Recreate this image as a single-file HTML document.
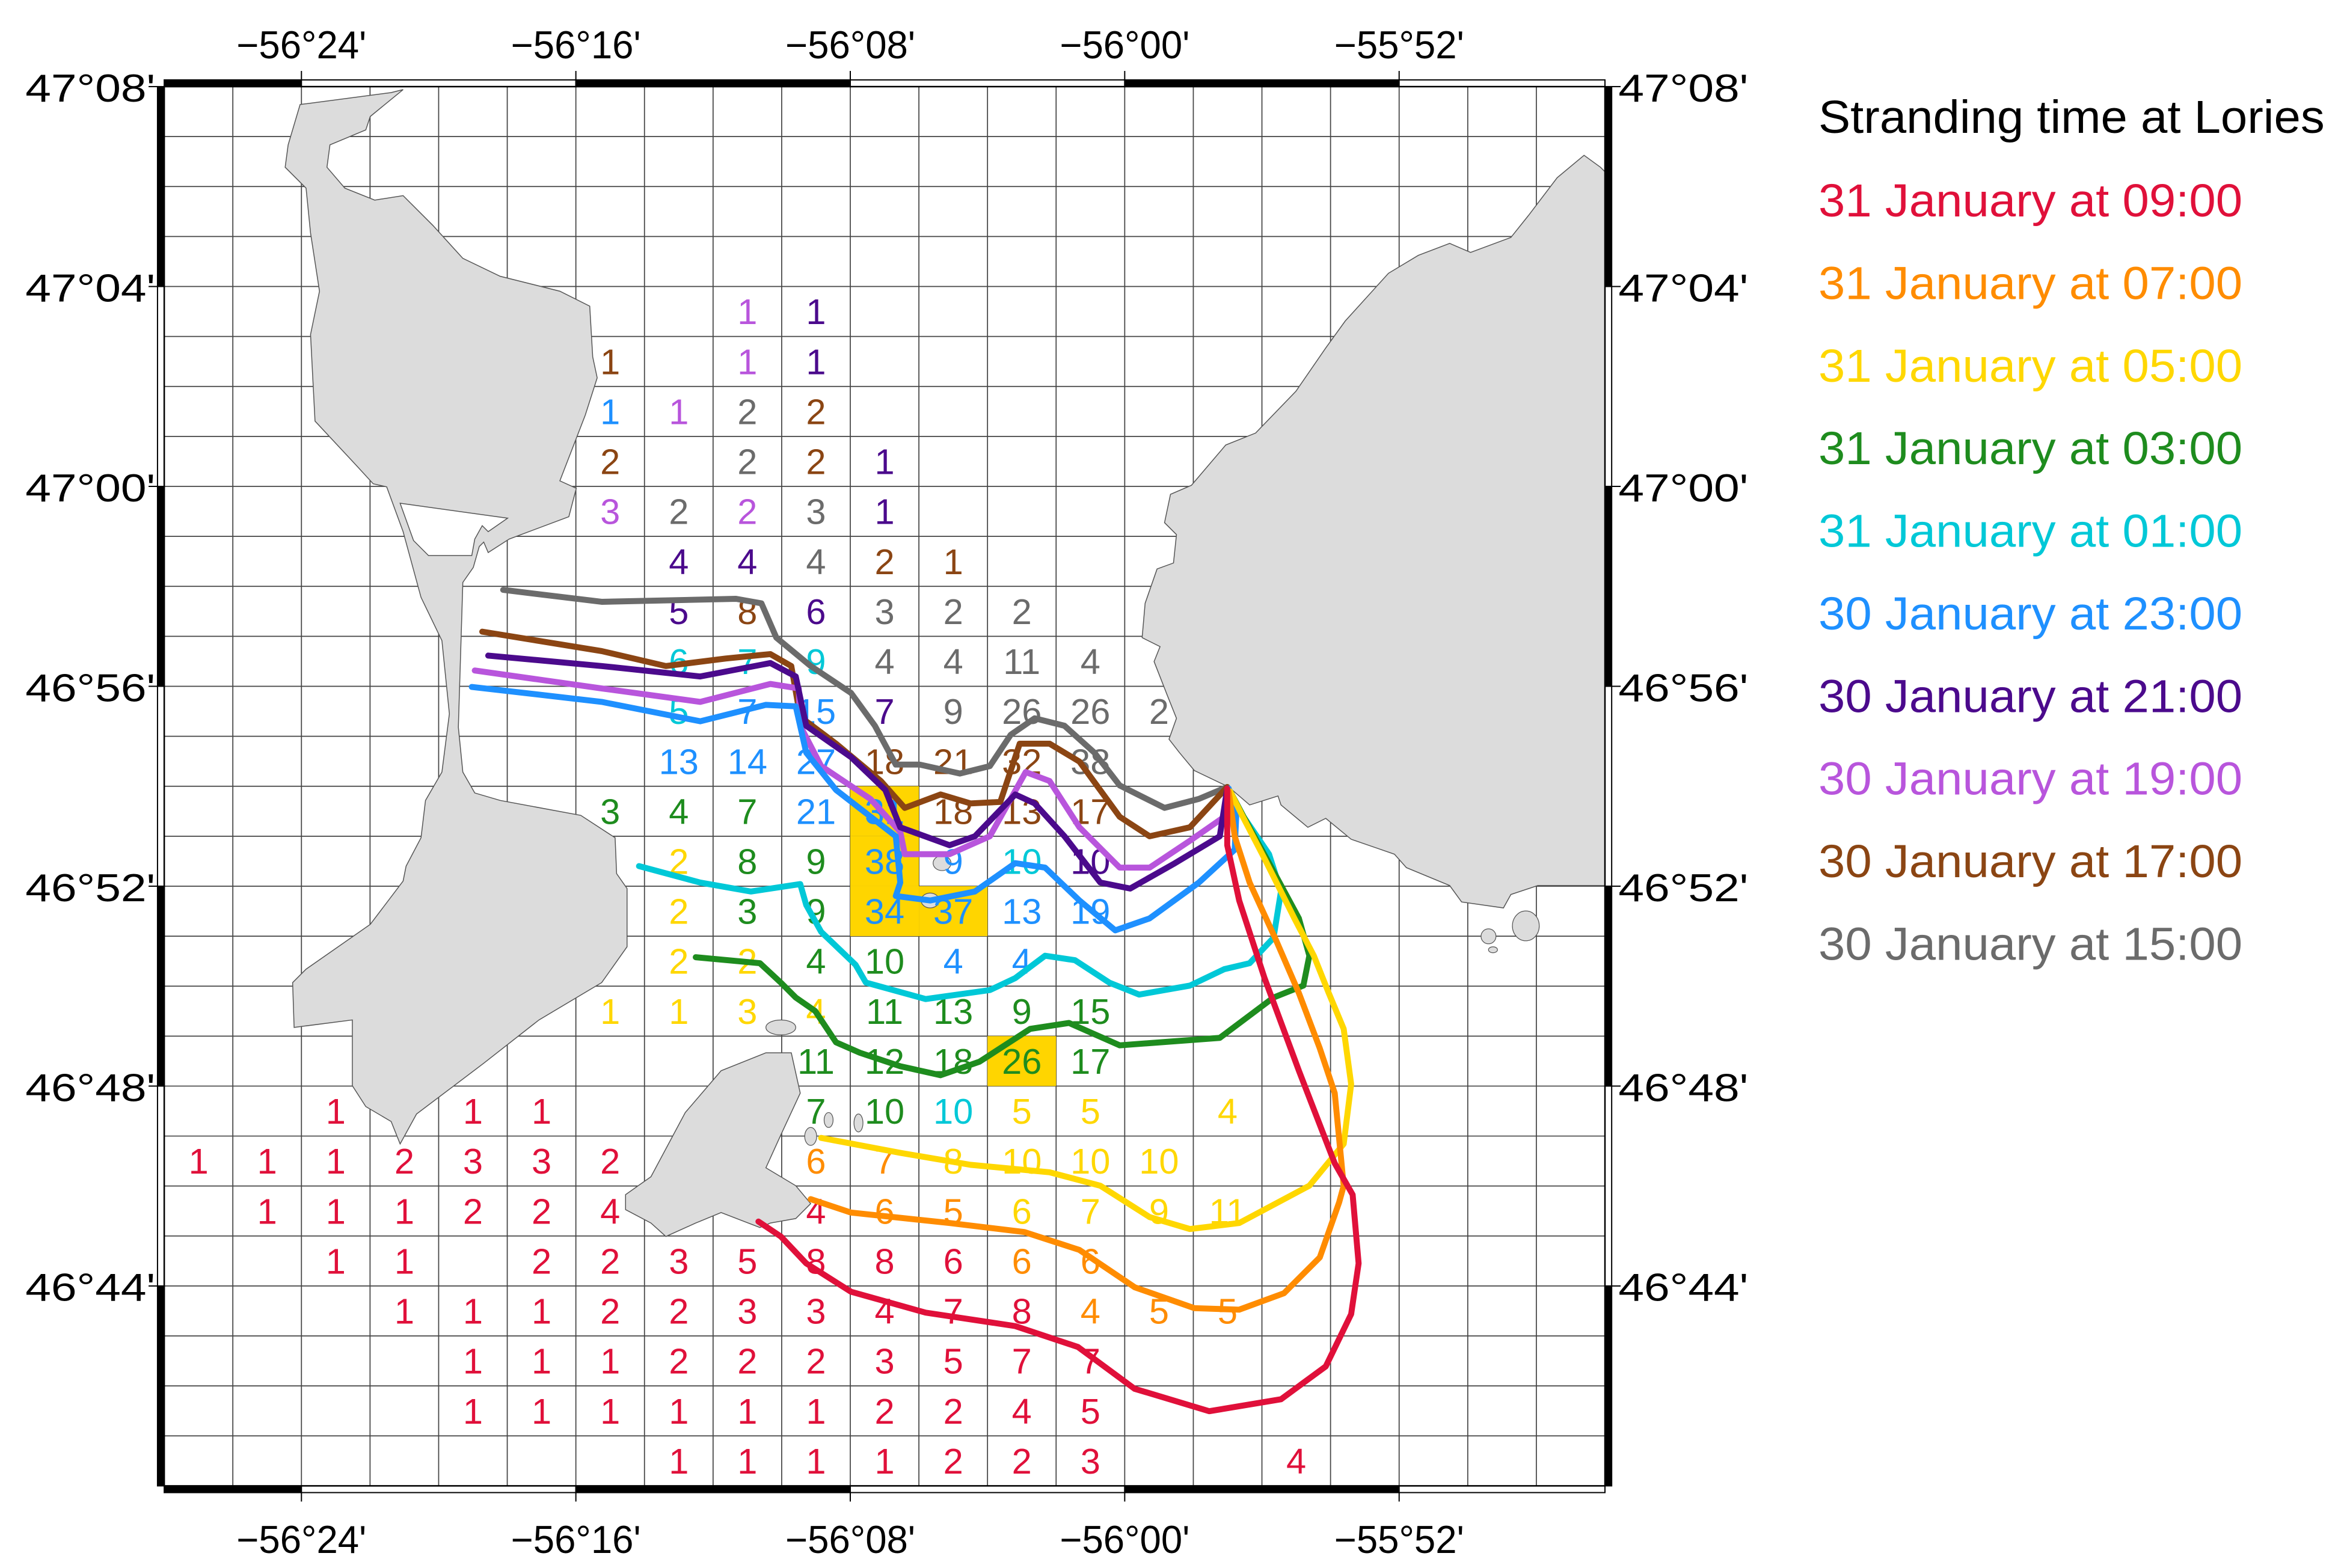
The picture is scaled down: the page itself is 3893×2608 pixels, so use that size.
<!DOCTYPE html>
<html><head><meta charset="utf-8"><title>Stranding time at Lories</title>
<style>
html,body{margin:0;padding:0;background:#fff;}
svg{display:block;font-family:"Liberation Sans",sans-serif;}
</style></head>
<body>
<svg id="chart" xmlns="http://www.w3.org/2000/svg" width="3893" height="2608" viewBox="0 0 1568 1050" preserveAspectRatio="none">
<rect x="0" y="0" width="1568" height="1050" fill="#fff"/>
<g id="grid"></g>
<g id="land"></g>
<g id="cells"></g>
<g id="traj"></g>
<g id="frame"></g>
<g id="axes"></g>
<g id="legend"></g>
</svg>
<script>
// ---- data ----
const seriesLabels = ["31 January at 09:00","31 January at 07:00","31 January at 05:00","31 January at 03:00","31 January at 01:00","30 January at 23:00","30 January at 21:00","30 January at 19:00","30 January at 17:00","30 January at 15:00"];
const seriesColors = ["#e0103a","#ff8c00","#ffd700","#1e8c1e","#00c8d7","#1e90ff","#4b0a8c","#b855dc","#8b4513","#6b6b6b"];
const lonTicks = ["\u221256\u00b024'","\u221256\u00b016'","\u221256\u00b008'","\u221256\u00b000'","\u221255\u00b052'"];
const lonTickMinutes = [-3384,-3376,-3368,-3360,-3352];
const latTicks = ["47\u00b008'","47\u00b004'","47\u00b000'","46\u00b056'","46\u00b052'","46\u00b048'","46\u00b044'"];
const latTickMinutes = [2828,2824,2820,2816,2812,2808,2804];
// cells: [col,row,value,series]
const cells = [
[8,4,1,7],[9,4,1,6],
[6,5,1,8],[8,5,1,7],[9,5,1,6],
[6,6,1,5],[7,6,1,7],[8,6,2,9],[9,6,2,8],
[6,7,2,8],[8,7,2,9],[9,7,2,8],[10,7,1,6],
[6,8,3,7],[7,8,2,9],[8,8,2,7],[9,8,3,9],[10,8,1,6],
[7,9,4,6],[8,9,4,6],[9,9,4,9],[10,9,2,8],[11,9,1,8],
[7,10,5,6],[8,10,8,8],[9,10,6,6],[10,10,3,9],[11,10,2,9],[12,10,2,9],
[7,11,6,4],[8,11,7,4],[9,11,9,4],[10,11,4,9],[11,11,4,9],[12,11,11,9],[13,11,4,9],
[7,12,5,4],[8,12,7,5],[9,12,15,5],[10,12,7,6],[11,12,9,9],[12,12,26,9],[13,12,26,9],[14,12,2,9],
[7,13,13,5],[8,13,14,5],[9,13,27,5],[10,13,18,8],[11,13,21,8],[12,13,32,8],[13,13,38,9],
[6,14,3,3],[7,14,4,3],[8,14,7,3],[9,14,21,5],[10,14,31,5],[11,14,18,8],[12,14,13,8],[13,14,17,8],
[7,15,2,2],[8,15,8,3],[9,15,9,3],[10,15,38,5],[11,15,9,5],[12,15,10,4],[13,15,10,6],
[7,16,2,2],[8,16,3,3],[9,16,9,3],[10,16,34,5],[11,16,37,5],[12,16,13,5],[13,16,19,5],
[7,17,2,2],[8,17,2,2],[9,17,4,3],[10,17,10,3],[11,17,4,5],[12,17,4,5],
[6,18,1,2],[7,18,1,2],[8,18,3,2],[9,18,4,2],[10,18,11,3],[11,18,13,3],[12,18,9,3],[13,18,15,3],
[9,19,11,3],[10,19,12,3],[11,19,18,3],[12,19,26,3],[13,19,17,3],
[2,20,1,0],[4,20,1,0],[5,20,1,0],[9,20,7,3],[10,20,10,3],[11,20,10,4],[12,20,5,2],[13,20,5,2],[15,20,4,2],
[0,21,1,0],[1,21,1,0],[2,21,1,0],[3,21,2,0],[4,21,3,0],[5,21,3,0],[6,21,2,0],[9,21,6,1],[10,21,7,1],[11,21,8,2],[12,21,10,2],[13,21,10,2],[14,21,10,2],
[1,22,1,0],[2,22,1,0],[3,22,1,0],[4,22,2,0],[5,22,2,0],[6,22,4,0],[9,22,4,0],[10,22,6,1],[11,22,5,1],[12,22,6,2],[13,22,7,2],[14,22,9,2],[15,22,11,2],
[2,23,1,0],[3,23,1,0],[5,23,2,0],[6,23,2,0],[7,23,3,0],[8,23,5,0],[9,23,8,0],[10,23,8,0],[11,23,6,0],[12,23,6,1],[13,23,6,1],
[3,24,1,0],[4,24,1,0],[5,24,1,0],[6,24,2,0],[7,24,2,0],[8,24,3,0],[9,24,3,0],[10,24,4,0],[11,24,7,0],[12,24,8,0],[13,24,4,1],[14,24,5,1],[15,24,5,1],
[4,25,1,0],[5,25,1,0],[6,25,1,0],[7,25,2,0],[8,25,2,0],[9,25,2,0],[10,25,3,0],[11,25,5,0],[12,25,7,0],[13,25,7,0],
[4,26,1,0],[5,26,1,0],[6,26,1,0],[7,26,1,0],[8,26,1,0],[9,26,1,0],[10,26,2,0],[11,26,2,0],[12,26,4,0],[13,26,5,0],
[7,27,1,0],[8,27,1,0],[9,27,1,0],[10,27,1,0],[11,27,2,0],[12,27,2,0],[13,27,3,0],[16,27,4,0]
];
// highlighted (max) cells: [col,row]
const highlightCells = [[10,14],[10,15],[10,16],[11,16],[12,19]];
// trajectories in projected map units
const trajRed = [[508,818],[523,828],[540,846],[570,865],[620,879],[680,888],[722,902],[760,930],[810,945],[858,937],[888,915],[905,880],[910,846],[906,800],[894,779],[870,717],[847,655],[830,603],[822,566],[822,528]];
const trajOrange = [[543,803],[570,812],[636,819],[686,825],[723,837],[760,862],[800,876],[830,877],[860,866],[884,842],[897,805],[900,794],[894,732],[884,702],[870,665],[854,628],[837,591],[827,560],[823,530]];
const trajYellow = [[550,762],[603,772],[650,780],[703,785],[737,794],[770,815],[797,823],[830,819],[877,794],[900,766],[905,726],[900,689],[890,665],[880,640],[867,615],[847,575],[832,546],[824,530]];
const trajGreen = [[466,641],[509,645],[523,658],[533,668],[546,677],[560,698],[576,705],[603,714],[630,720],[656,711],[690,689],[716,685],[750,700],[817,695],[853,668],[873,660],[877,640],[870,615],[850,578],[833,547],[824,530]];
const trajCyan = [[428,580],[469,591],[503,597],[536,592],[540,606],[550,624],[573,646],[580,658],[620,669],[663,663],[680,655],[700,640],[720,643],[743,658],[763,666],[797,660],[820,649],[837,645],[853,628],[858,597],[850,572],[833,547],[824,530]];
const trajBlue = [[316,460],[403,470],[469,483],[513,472],[533,473],[540,504],[560,529],[600,560],[603,591],[600,600],[623,603],[653,597],[680,578],[700,581],[723,603],[747,623],[770,615],[803,591],[827,569],[828,547],[823,528]];
const trajIndigo = [[327,439],[403,446],[469,453],[516,444],[533,453],[540,486],[570,507],[593,529],[603,554],[636,566],[653,560],[680,532],[693,538],[713,560],[737,591],[757,595],[787,578],[817,560],[822,528]];
const trajViolet = [[318,449],[403,461],[469,470],[516,458],[535,461],[536,486],[550,513],[583,535],[603,557],[606,572],[636,572],[663,560],[677,535],[687,517],[703,523],[723,554],[750,581],[770,581],[797,563],[820,547],[822,528]];
const trajBrown = [[323,423],[403,436],[446,446],[486,441],[516,438],[530,446],[536,480],[560,498],[590,523],[606,541],[630,532],[650,538],[670,537],[680,507],[683,498],[703,498],[723,510],[750,547],[770,560],[797,554],[822,527]];
const trajGray = [[337,395],[403,403],[493,401],[510,404],[520,427],[543,446],[570,464],[586,486],[600,512],[616,512],[643,518],[663,513],[677,492],[693,481],[713,486],[733,504],[750,526],[780,541],[803,535],[822,527]];
const trajectories = [trajRed,trajOrange,trajYellow,trajGreen,trajCyan,trajBlue,trajIndigo,trajViolet,trajBrown,trajGray];
// ---- scales ----
const X0=110, X1=1075, Y0=58, Y1=995, NC=21, NR=28;
const CW=(X1-X0)/NC, RH=(Y1-Y0)/NR;
function colX(c){return X0+CW*c;}
function rowY(r){return Y0+RH*r;}
function lonX(m){return X0+(m-(-3388))/2*CW;}
function latY(m){return Y0+(2828-m)*RH;}
function px(p){return p[0];}
function py(p){return p[1];}
const NS="http://www.w3.org/2000/svg";
function mk(tag,attrs,parent){const e=document.createElementNS(NS,tag);for(const k in attrs)e.setAttribute(k,attrs[k]);parent.appendChild(e);return e;}
// grid
const grid=document.getElementById('grid');
for(let c=0;c<=NC;c++){const l=mk('line',{x1:colX(c),y1:Y0,x2:colX(c),y2:Y1,stroke:'#444','stroke-width':0.7},grid);

}
for(let r=0;r<=NR;r++){const l=mk('line',{x1:X0,y1:rowY(r),x2:X1,y2:rowY(r),stroke:'#444','stroke-width':0.7},grid);

}
// highlight cells
highlightCells.forEach(h=>{const e=mk('rect',{x:colX(h[0]),y:rowY(h[1]),width:CW,height:RH,fill:'#ffd500'},grid);

});
// land
const land=document.getElementById('land');
const miquelon="201,70 262,62 270,60 248,78 245,87 221,97 219,112 231,126 251,134 270,131 290,151 310,173 335,185 375,195 395,205 397,239 400,253 392,278 375,322 386,327 381,346 341,361 327,370 324,363 321,366 317,380 310,390 307,487 310,517 318,531 335,536 389,546 412,561 413,585 420,595 420,634 403,658 361,683 324,712 279,746 268,766 262,751 245,741 236,727 236,683 197,688 196,658 205,649 248,619 270,590 272,580 282,561 285,536 296,517 301,478 296,429 282,400 270,356 259,326 250,324 239,312 211,282 208,224 214,195 208,156 205,126 191,112 193,97";
const lagoon="268,337 340,347 327,356 323,352 318,361 316,372 287,372 277,362";
const eastLand="1061,104 1072,112 1075,115 1075,593 1030,593 1012,599 1007,608 979,604 971,593 942,581 934,572 905,562 888,548 876,554 858,539 856,533 837,539 823,527 800,516 790,504 783,495 788,481 782,466 773,443 777,433 765,427 767,404 775,381 786,377 788,358 780,350 784,331 798,325 821,298 841,290 868,262 888,233 901,215 930,183 950,171 971,163 985,169 1012,159 1024,144 1043,119";
const saintPierre="530,705 536,732 523,760 513,782 533,794 543,806 533,816 516,819 509,822 483,812 466,819 446,828 436,819 419,810 419,800 436,788 459,745 483,717 513,705";
[[miquelon,'miquelon-langlade-island','#dcdcdc'],[lagoon,'grand-barachois-lagoon','#fff'],[eastLand,'burin-peninsula','#dcdcdc'],[saintPierre,'saint-pierre-island','#dcdcdc']].forEach(d=>{
const e=mk('polygon',{points:d[0],fill:d[2],stroke:'#555','stroke-width':0.6},land);

});
[[523,688,10,5],[543,761,4,6],[555,750,3,5],[575,752,3,6],[631,578,6,5],[623,603,6,5],[1022,620,9,10],[997,627,5,5],[1000,636,3,2]].forEach(d=>{
const e=mk('ellipse',{cx:d[0],cy:d[1],rx:d[2],ry:d[3],fill:'#dcdcdc',stroke:'#555','stroke-width':0.5},land);

});
// cell numbers
const cg=document.getElementById('cells');
cells.forEach(c=>{const t=mk('text',{x:colX(c[0])+CW/2,y:rowY(c[1])+RH/2+8.5,'text-anchor':'middle','font-size':24,fill:seriesColors[c[3]]},cg);
t.textContent=c[2];

});
// trajectories
const tg=document.getElementById('traj');
for(let i=trajectories.length-1;i>=0;i--){const pts=trajectories[i].map(p=>px(p)+','+py(p)).join(' ');
const e=mk('polyline',{points:pts,fill:'none',stroke:seriesColors[i],'stroke-width':4,'stroke-linejoin':'round','stroke-linecap':'round'},tg);

}
// frame
const fg=document.getElementById('frame');
const B=4.5;
function seg(x,y,w,h,black){const e=mk('rect',{x:x,y:y,width:w,height:h,fill:black?'#000':'#fff',stroke:'#000','stroke-width':0.8},fg);

}
const lonBreaks=[X0,lonX(-3384),lonX(-3376),lonX(-3368),lonX(-3360),lonX(-3352),X1];
for(let i=0;i<lonBreaks.length-1;i++){const bl=(i%2===0);
seg(lonBreaks[i],Y0-B,lonBreaks[i+1]-lonBreaks[i],B,bl);
seg(lonBreaks[i],Y1,lonBreaks[i+1]-lonBreaks[i],B,bl);}
const latBreaks=[Y0,latY(2824),latY(2820),latY(2816),latY(2812),latY(2808),latY(2804),Y1];
for(let i=0;i<latBreaks.length-1;i++){const bl=(i%2===0);
seg(X0-B,latBreaks[i],B,latBreaks[i+1]-latBreaks[i],bl);
seg(X1,latBreaks[i],B,latBreaks[i+1]-latBreaks[i],bl);}
mk('rect',{x:X0,y:Y0,width:X1-X0,height:Y1-Y0,fill:'none',stroke:'#000','stroke-width':1},fg);
// axes labels
const ag=document.getElementById('axes');
lonTicks.forEach((lab,i)=>{const x=lonX(lonTickMinutes[i]);
mk('line',{x1:x,y1:Y0-B,x2:x,y2:Y0-B-6,stroke:'#000','stroke-width':0.8},ag);
mk('line',{x1:x,y1:Y1+B,x2:x,y2:Y1+B+6,stroke:'#000','stroke-width':0.8},ag);
const t1=mk('text',{x:x,y:39,'text-anchor':'middle','font-size':26,textLength:87,lengthAdjust:'spacingAndGlyphs',fill:'#000'},ag);t1.textContent=lab;


const t2=mk('text',{x:x,y:1040,'text-anchor':'middle','font-size':26,textLength:87,lengthAdjust:'spacingAndGlyphs',fill:'#000'},ag);t2.textContent=lab;

});
latTicks.forEach((lab,i)=>{const y=latY(latTickMinutes[i]);
mk('line',{x1:X0-B,y1:y,x2:X0-B-6,y2:y,stroke:'#000','stroke-width':0.8},ag);
mk('line',{x1:X1+B,y1:y,x2:X1+B+6,y2:y,stroke:'#000','stroke-width':0.8},ag);
const t1=mk('text',{x:17,y:y+10,'text-anchor':'start','font-size':26,textLength:87,lengthAdjust:'spacingAndGlyphs',fill:'#000'},ag);t1.textContent=lab;


const t2=mk('text',{x:1084,y:y+10,'text-anchor':'start','font-size':26,textLength:87,lengthAdjust:'spacingAndGlyphs',fill:'#000'},ag);t2.textContent=lab;

});
// legend
const lg=document.getElementById('legend');
const lt=mk('text',{x:1218,y:89,'font-size':31,textLength:339,lengthAdjust:'spacingAndGlyphs',fill:'#000'},lg);lt.textContent='Stranding time at Lories';


seriesLabels.forEach((s,i)=>{const t=mk('text',{x:1218,y:145+55.3*i,'font-size':31,textLength:284,lengthAdjust:'spacingAndGlyphs',fill:seriesColors[i]},lg);t.textContent=s;

});
</script>
</body></html>
